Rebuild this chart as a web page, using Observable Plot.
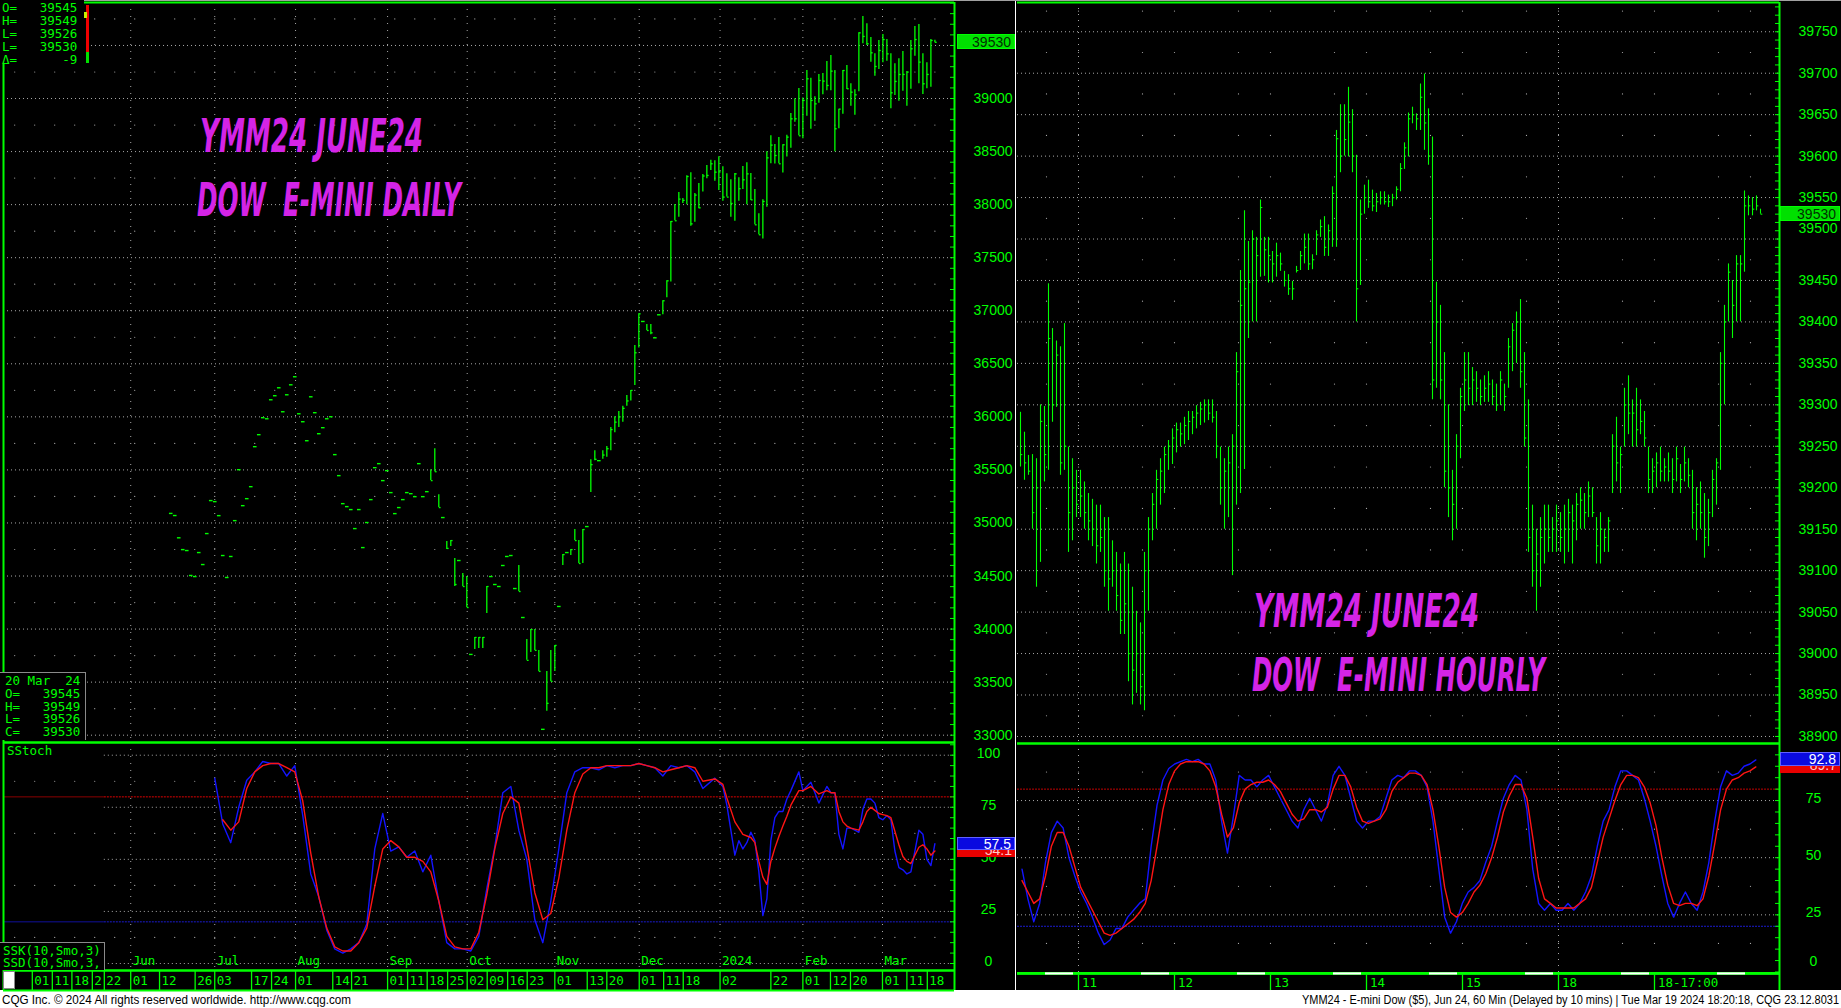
<!DOCTYPE html>
<html>
<head>
<meta charset="utf-8">
<script src="https://cdn.jsdelivr.net/npm/d3@7"></script>
<script src="https://cdn.jsdelivr.net/npm/@observablehq/plot@0.6"></script>
<style>
  html, body { margin:0; padding:0; background:#fff; }
  #root { position:relative; width:1841px; height:1008px; overflow:hidden; background:#fff; }
  .abs { position:absolute; }
  .abs svg { display:block; max-width:none; }
  .mono { font-family:"DejaVu Sans Mono", monospace; font-size:12.5px; line-height:12.8px; color:#00ff00; white-space:pre; box-sizing:border-box; }
  .vbox { position:absolute; font-family:"Liberation Sans", Arial, sans-serif; font-size:14px; line-height:14px; text-align:right; box-sizing:border-box; padding-right:3px; overflow:hidden; }
</style>
</head>
<body>
<div id="root"></div>
<script>
// ================= DAILY (left) =================
const dHigh = [
35090,35070,34860,34749,34740,34505,34495,34721,34608,34900,
35211,35201,35069,34693,34486,34684,35022,35502,35163,35229,
35342,35719,35832,35992,35982,36161,36199,36274,36048,36208,
36302,36378,36029,35954,35775,36189,36039,35841,35898,35982,
36001,35644,35446,35182,35154,35126,34947,35126,34768,35004,
35220,35521,35559,35399,35493,35286,35088,35145,35220,35286,
35276,35248,35559,35248,35295,
35502,35700,35267,35051,34825,34834,34665,34646,34523,34495,
33761,33921,33921,33921,34401,34495,34420,34401,34599,34684,
34693,34382,34599,34109,33902,33996,33996,33799,33055,33601,
33799,33846,34213,34702,34721,34749,34938,34834,34938,34966,
35596,35681,35587,35680,35720,35900,36000,36050,36100,36201,
36249,36673,36971,36899,36871,36871,36745,36962,37094,37282,
37841,38001,38115,38058,38272,38300,38105,38199,38284,38369,
38419,38413,38451,38356,38290,38234,38294,38253,38360,38394,
38294,38143,37913,38045,38498,38649,38567,38633,38564,38655,
38859,38997,39095,39004,39264,39192,39016,39227,39236,39349,
39406,39264,38900,39264,39311,39139,39082,39619,39773,39704,
39575,39421,39547,39604,39556,39421,39327,39374,39443,39255,
39547,39679,39698,39421,39337,39556,39549];
const dLow = [
35090,35070,34860,34749,34740,34505,34495,34721,34608,34900,
35211,35201,35069,34693,34486,34684,35022,35502,35163,35229,
35342,35719,35832,35992,35982,36161,36199,36274,36048,36208,
36302,36378,36029,35954,35775,36189,36039,35841,35898,35982,
36001,35644,35446,35182,35154,35126,34947,35126,34768,35004,
35220,35521,35559,35399,35493,35286,35088,35145,35220,35286,
35276,35248,35559,35248,35295,
35399,35483,35145,35051,34749,34778,34401,34646,34401,34203,
33761,33808,33818,33818,34147,34495,34420,34401,34599,34684,
34693,34382,34354,34109,33705,33780,33799,33601,33055,33225,
33507,33601,34213,34599,34721,34693,34834,34618,34618,34966,
35286,35587,35587,35600,35620,35680,35850,35900,35950,36100,
36150,36296,36648,36899,36814,36773,36745,36962,36962,37122,
37270,37848,37882,38011,37998,37797,37835,37961,38118,38243,
38322,38221,38133,38033,38071,37882,37844,38033,38143,37998,
38039,37810,37716,37675,37976,38385,38382,38385,38297,38448,
38532,38777,38649,38620,38834,38711,38787,38956,39035,39073,
39073,38498,38715,38853,39085,38928,38843,39063,39516,39500,
39343,39211,39274,39337,39352,38903,39029,38975,39069,38928,
39088,39399,39139,39038,39092,39107,39526];
const dClose = [
35090,35070,34860,34749,34740,34505,34495,34721,34608,34900,
35211,35201,35069,34693,34486,34684,35022,35502,35163,35229,
35342,35719,35832,35992,35982,36161,36199,36274,36048,36208,
36302,36378,36029,35954,35775,36189,36039,35841,35898,35982,
36001,35644,35446,35182,35154,35126,34947,35126,34768,35004,
35220,35521,35559,35399,35493,35286,35088,35145,35220,35286,
35276,35248,35559,35248,35295,
35399,35483,35145,35051,34760,34834,34420,34646,34401,34203,
33761,33921,33921,33921,34401,34495,34420,34401,34599,34684,
34693,34382,34354,34109,33705,33996,33799,33601,33055,33300,
33507,33846,34213,34702,34721,34749,34834,34618,34938,34966,
35550,35600,35587,35640,35700,35880,35950,36000,36080,36150,
36249,36604,36971,36899,36814,36792,36745,36962,37094,37282,
37841,37848,38052,38040,38265,37819,38090,37970,38270,38275,
38385,38306,38309,38071,38071,38011,38290,38150,38234,38290,
38045,37810,37716,38030,38441,38561,38463,38385,38564,38636,
38809,38809,38649,38982,39186,38982,38950,39170,39164,39123,
39258,38715,38900,39264,39092,39060,39035,39619,39585,39516,
39431,39302,39453,39556,39421,39054,39161,39227,39227,39249,
39469,39556,39343,39139,39227,39547,39530];

// session index of each date label on the daily axis
const dTickIdx = [-34.6,-29.6,-24.7,-19.6,-16.6,-10.0,-2.8,6.1,11.0,20.2,25.2,31.2,40.5,45.2,54.2,59.2,64.1,69.2,74.1,79.1,84.2,89.1,96.0,104.1,109.0,117.1,123.2,128.1,137.3,150.0,158.0,164.9,169.9,177.9,184.0,189.1];
const dTickLab = ["01","11","18","2","22","01","12","26","03","17","24","01","14","21","01","11","18","25","02","09","16","23","01","13","20","01","11","18","02","22","01","12","20","01","11","18"];
const dMonthIdx = [-10.0,11.0,31.2,54.2,74.1,96.0,117.1,137.3,158.0,177.9];
const dMonthLab = ["Jun","Jul","Aug","Sep","Oct","Nov","Dec","2024","Feb","Mar"];
const dPriceLabels = [33000,33500,34000,34500,35000,35500,36000,36500,37000,37500,38000,38500,39000];
const dStochLabels = [100,75,50,25,0];
const dPreDataEnd = -16.6;   // session index where the loaded history begins

const dK = [[11,89],[13,67],[15,58],[17,75],[19,88],[21,92],[23,97],[25,96],[27,96],[29,90],[31,95],[33,71],[35,43],[37,32],[39,16],[41,7],[43,5],[45,7],[47,10],[49,19],[51,55],[53,72],[55,54],[57,56],[59,51],[61,54],[63,44],[65,52],[67,30],[69,10],[71,7],[73,7],[75,6],[77,13],[79,36],[81,56],[83,82],[85,85],[87,64],[89,50],[91,21],[93,10],[95,30],[97,55],[99,82],[101,92],[103,94],[105,94],[107,93],[109,95],[111,94],[113,95],[115,95],[117,96],[119,95],[121,94],[123,90],[125,95],[127,94],[129,95],[131,92],[133,84],[136,89],[138,85],[139,76],[141,52],[142,59],[143,55],[144,58],[145,63],[146,59],[147,44],[148,23],[149,31],[150,59],[151,70],[152,73],[153,73],[154,79],[155,83],[157,92],[158,83],[160,87],[162,77],[164,85],[165,82],[166,82],[167,62],[168,55],[169,65],[170,65],[171,64],[172,63],[173,74],[174,79],[175,79],[176,77],[177,70],[178,69],[179,71],[180,69],[181,54],[182,46],[183,45],[184,43],[185,44],[186,54],[187,64],[188,62],[189,50],[190,47],[191,57.5]];
const dD = [[13,69],[15,64],[17,68],[19,84],[21,92],[23,95],[25,96],[27,96],[29,94],[31,92],[33,78],[35,53],[37,32],[39,17],[41,8],[43,6],[45,6],[47,10],[49,17],[51,37],[53,55],[55,59],[57,56],[59,51],[61,51],[63,49],[65,44],[67,30],[69,13],[71,8],[73,7],[75,7],[77,15],[79,33],[81,55],[83,72],[85,80],[87,77],[89,56],[91,34],[93,21],[95,24],[97,41],[99,64],[101,82],[103,91],[105,94],[107,94],[109,95],[111,95],[113,95],[115,95],[117,96],[119,95],[121,94],[123,92],[125,93],[127,94],[129,95],[131,94],[133,87.5],[136,88.6],[138,86],[139,79.5],[141,68],[143,62],[145,60.5],[146,58],[147,49],[148,41.5],[149,38],[150,49],[151,55.4],[152,61],[153,66],[154,70.7],[155,76],[157,83],[158,83],[160,85],[162,81.4],[164,83],[165,82],[166,82],[167,73],[168,68],[169,66],[170,65],[172,64],[173,68],[174,73],[175,75],[176,73.5],[177,72],[178,71.5],[179,71],[180,70],[181,63.5],[182,57],[183,51.4],[184,49],[185,48],[186,52],[187,55.8],[188,57],[189,55],[190,52],[191,54]];

const dInfoTop = ["O=","H=","L=","L=","\u0394="];
const dInfoTopVal = ["39545","39549","39526","39530","-9"];
const dInfoBottom = ["O=","H=","L=","C="];
const dInfoBottomVal = ["39545","39549","39526","39530"];
const dInfoDate = "20 Mar  24";
const dLastPrice = 39530, dLastK = 57.5, dLastD = 54.1;

// ================= HOURLY (right) =================
const hHigh = [
39291,39267,39239,39240,39235,39300,39298,39446,39392,39377,
39370,39398,39249,39235,39221,39221,39207,39193,39186,39179,
39179,39164,39164,39136,39122,39108,39122,39108,39080,39051,
39037,39122,39164,39193,39221,39235,39249,39257,39271,39278,
39278,39285,39292,39292,39299,39303,39306,39306,39306,39292,
39249,39235,39249,39264,39363,39462,39534,39497,39510,39502,
39547,39502,39502,39485,39495,39483,39461,39457,39449,39467,
39485,39506,39506,39481,39510,39523,39527,39517,39563,39631,
39662,39662,39683,39656,39601,39547,39565,39571,39559,39555,
39557,39557,39553,39554,39563,39591,39616,39652,39659,39651,
39687,39699,39657,39623,39448,39420,39363,39300,39221,39264,
39320,39363,39363,39345,39340,39330,39335,39340,39330,39325,
39340,39325,39380,39398,39412,39427,39363,39306,39179,39150,
39164,39179,39179,39164,39179,39170,39179,39186,39179,39193,
39200,39193,39207,39200,39164,39170,39150,39164,39264,39285,
39249,39320,39335,39306,39320,39306,39292,39249,39235,39242,
39249,39235,39242,39235,39249,39228,39249,39235,39221,39200,
39207,39193,39186,39221,39235,39363,39420,39470,39450,39480,
39480,39558,39552,39550,39552,39536];
const hLow = [
39225,39209,39215,39150,39080,39110,39207,39221,39279,39297,
39215,39221,39122,39136,39164,39164,39150,39136,39129,39108,
39122,39080,39051,39080,39051,39023,39023,38966,38938,38952,
38938,38931,39051,39136,39150,39179,39193,39221,39228,39242,
39249,39252,39257,39264,39271,39275,39278,39281,39278,39235,
39179,39150,39164,39094,39179,39193,39222,39380,39400,39400,
39454,39455,39447,39447,39454,39461,39442,39432,39426,39459,
39462,39470,39462,39463,39480,39502,39479,39479,39490,39490,
39580,39600,39599,39580,39400,39444,39530,39537,39533,39532,
39541,39541,39538,39539,39547,39557,39584,39599,39639,39631,
39631,39607,39589,39306,39320,39306,39200,39164,39136,39150,
39235,39292,39299,39299,39303,39299,39303,39303,39299,39292,
39299,39292,39320,39340,39350,39320,39249,39122,39080,39051,
39080,39108,39122,39122,39122,39122,39108,39122,39108,39136,
39150,39150,39164,39164,39108,39108,39122,39122,39193,39207,
39193,39249,39264,39249,39249,39264,39249,39193,39193,39200,
39207,39207,39207,39193,39207,39193,39207,39200,39150,39136,
39150,39115,39129,39164,39179,39221,39300,39400,39380,39400,
39400,39460,39528,39528,39534,39530];
const hClose = [
39240,39230,39220,39170,39200,39280,39240,39380,39300,39360,
39230,39250,39170,39200,39180,39190,39170,39160,39150,39130,
39140,39100,39090,39100,39070,39040,39060,39000,38980,39000,
38960,39100,39150,39180,39210,39220,39240,39250,39260,39270,
39265,39275,39280,39285,39290,39295,39300,39290,39285,39250,
39200,39220,39230,39250,39340,39420,39440,39448,39500,39480,
39538,39487,39480,39470,39480,39470,39450,39440,39440,39462,
39480,39490,39470,39475,39505,39515,39490,39510,39555,39621,
39600,39620,39641,39600,39440,39530,39550,39545,39540,39545,
39550,39545,39545,39550,39560,39585,39610,39645,39650,39645,
39671,39640,39600,39330,39400,39330,39220,39200,39180,39250,
39310,39330,39320,39330,39320,39310,39320,39325,39310,39300,
39330,39310,39370,39390,39400,39340,39260,39140,39100,39120,
39140,39150,39140,39150,39160,39140,39150,39170,39160,39180,
39185,39170,39190,39170,39130,39150,39140,39160,39250,39230,
39240,39300,39290,39290,39270,39280,39260,39210,39220,39230,
39220,39225,39220,39210,39235,39210,39230,39215,39170,39180,
39170,39140,39170,39210,39230,39350,39400,39460,39420,39470,
39470,39540,39540,39536,39540,39530];

const hDayIdx = [14.5,38.5,62.5,86.5,110.5,134.5,158.5];
const hDayLab = ["11","12","13","14","15","18","18-17:00"];
const hWeekIdx = [14.5,134.5];
const hRth = [[6.25,13.25],[30.25,37.25],[54.25,61.25],[78.25,85.25],[102.25,109.25],[126.25,133.25],[150.25,157.25],[174.25,181.25]];
const hPriceLabels = [38900,38950,39000,39050,39100,39150,39200,39250,39300,39350,39400,39450,39500,39550,39600,39650,39700,39750];
const hStochLabels = [75,50,25,0];
// stochastic readings, one every 1.47 bars starting at bar 0.4
const hStochStart = 0.38, hStochStep = 1.4676;
const hK = [45,32,22,30,48,61,66,63,50,42,35,30,24,17,12,14,19,19,24,27,30,32,55,73,84,89,91,92,93,92,93,91,91,84,66,52,68,86,84,84,81,84,86,81,76,71,66,63,71,76,71,66,73,86,90,86,76,66,63,66,66,68,76,84,86,85,88,88,86,81,66,45,24,17,22,30,35,37,40,48,55,66,76,82,86,84,71,45,30,27,30,27,27,30,27,30,35,42,55,66,71,81,88,88,86,84,76,66,55,42,30,24,30,35,30,27,35,48,66,81,88,86,87,90,91,92.8];
const hD = [40,35,30,32,42,55,61,61,55,46,37,32,27,22,17,16,17,19,21,23,26,30,40,55,71,82,88,91,92,92,92,91,88,81,69,59,63,74,80,82,83,83,84,82,79,74,69,66,67,71,71,70,72,80,86,86,81,72,66,65,66,67,71,79,83,85,87,87,86,82,71,55,37,26,24,26,30,35,38,43,50,59,70,77,82,82,76,59,41,32,30,28,28,28,28,30,32,37,48,59,67,75,82,86,86,85,81,74,64,50,38,30,29,30,30,29,32,42,56,71,80,84,85,87,88,89.7];
const hLastPrice = 39530, hLastK = 92.8, hLastD = 89.7;

const titlesLeft = ["YMM24 JUNE24","DOW  E-MINI DAILY"];
const titlesRight = ["YMM24 JUNE24","DOW  E-MINI HOURLY"];
const footLeft = "CQG Inc. \u00a9 2024 All rights reserved worldwide. http://www.cqg.com";
const footRight = "YMM24 - E-mini Dow ($5), Jun 24, 60 Min (Delayed by 10 mins) | Tue Mar 19 2024 18:20:18, CQG 23.12.8031";

// ================= rendering =================
const GREEN = "#00ff00", GRID = "#a8a8a8", BLUE = "#1414ff", RED = "#ff1414", MAGENTA = "#d424e6";
const SANS = "Liberation Sans, Arial, sans-serif", MONO = "DejaVu Sans Mono, monospace";
const root = document.getElementById("root");

function box(left, top, width, height, css) {
  const d = document.createElement("div");
  d.className = "abs";
  Object.assign(d.style, {left: left + "px", top: top + "px", width: width + "px", height: height + "px"}, css || {});
  root.appendChild(d);
  return d;
}
function mount(plot, left, top, width, height) {
  const d = box(left, top, width, height);
  d.appendChild(plot);
  return plot;
}

box(0, 0, 1841, 990, {background: "#000"});

function barMarks(rows, sw) {
  const bars = rows.filter(d => d.h > d.l), dashes = rows.filter(d => d.h === d.l);
  return [
    Plot.ruleX(bars, {x: "i", y1: "l", y2: "h", stroke: GREEN, strokeWidth: sw}),
    Plot.link(bars, {x1: "i", x2: d => d.i + 0.45, y1: "c", y2: "c", stroke: GREEN, strokeWidth: sw}),
    Plot.link(dashes, {x1: d => d.i - 0.45, x2: d => d.i + 0.45, y1: "c", y2: "c", stroke: GREEN, strokeWidth: 1.4})
  ];
}
function frame(X, Y, sides) {
  const m = [];
  if (sides.includes("l")) m.push(Plot.ruleX([X[0]], {stroke: GREEN, strokeWidth: 2}));
  if (sides.includes("r")) m.push(Plot.ruleX([X[1]], {stroke: GREEN, strokeWidth: 2}));
  if (sides.includes("t")) m.push(Plot.ruleY([Y[1]], {stroke: GREEN, strokeWidth: 2}));
  if (sides.includes("b")) m.push(Plot.ruleY([Y[0]], {stroke: GREEN, strokeWidth: 2}));
  return m;
}
const baseStyle = {background: "transparent", overflow: "visible"};

// ---------- left price ----------
const LX = [-41.8, 195.9], LY = [32931, 39905];
const dRows = dHigh.map((h, i) => ({i, h, l: dLow[i], c: dClose[i]}));
const weekly = d3.range(-39, 196, 5);
const leftPrice = mount(Plot.plot({
  width: 1015, height: 742, marginLeft: 3, marginRight: 61, marginTop: 2, marginBottom: 0,
  x: {domain: LX, axis: null}, y: {domain: LY, axis: null}, style: baseStyle,
  marks: [
    Plot.ruleY(d3.range(33000, 39501, 500), {stroke: GRID, strokeDasharray: "1,3"}),
    Plot.ruleX(dMonthIdx, {stroke: GRID, strokeDasharray: "1,6"}),
    Plot.dot(d3.cross(weekly, d3.range(33250, 39900, 500)), {x: d => d[0], y: d => d[1], r: 0.6, fill: GRID}),
    ...barMarks(dRows, 1.3),
    Plot.ruleY(d3.range(33000, 39901, 100), {x1: LX[1] - 1, x2: LX[1], stroke: GREEN}),
    Plot.text(dPriceLabels, {y: d => d, text: d => String(d), frameAnchor: "right", dx: 58, textAnchor: "end", fill: GREEN, fontSize: 14, fontFamily: SANS}),
    ...frame(LX, LY, "lrtb")
  ]
}), 0, 0, 1015, 742);

// ---------- left stochastic ----------
const LSY = [-3.36, 106.1];
const leftStoch = mount(Plot.plot({
  width: 1015, height: 228, marginLeft: 3, marginRight: 61, marginTop: 0, marginBottom: 0,
  x: {domain: LX, axis: null}, y: {domain: LSY, axis: null}, style: baseStyle,
  marks: [
    Plot.ruleY([0, 25, 50, 75, 100], {x1: dPreDataEnd, x2: LX[1], stroke: GRID, strokeDasharray: "1,3"}),
    Plot.ruleX(dMonthIdx, {stroke: GRID, strokeDasharray: "1,6"}),
    Plot.dot(d3.cross(weekly, [12.5, 37.5, 62.5, 87.5]), {x: d => d[0], y: d => d[1], r: 0.6, fill: GRID}),
    Plot.ruleY([80], {x1: dPreDataEnd, x2: LX[1], stroke: "#e00000", strokeDasharray: "2,1"}),
    Plot.ruleY([20], {x1: dPreDataEnd, x2: LX[1], stroke: "#1a1ad0", strokeDasharray: "2,1"}),
    Plot.ruleY([80], {x1: LX[0], x2: dPreDataEnd, stroke: "#8a0000"}),
    Plot.ruleY([20], {x1: LX[0], x2: dPreDataEnd, stroke: "#10109a"}),
    Plot.line(dK, {x: d => d[0], y: d => d[1], stroke: BLUE, strokeWidth: 1.4}),
    Plot.line(dD, {x: d => d[0], y: d => d[1], stroke: RED, strokeWidth: 1.4}),
    Plot.ruleY(d3.range(0, 106, 5), {x1: LX[1] - 1, x2: LX[1], stroke: GREEN}),
    Plot.text(dStochLabels, {y: d => d, text: d => String(d), frameAnchor: "right", dx: 34, dy: -2, textAnchor: "middle", fill: GREEN, fontSize: 14, fontFamily: SANS}),
    Plot.text(dMonthIdx, {x: d => d, text: (d, k) => dMonthLab[k], frameAnchor: "bottom", dy: -6, dx: 2, textAnchor: "start", fill: GREEN, fontSize: 12.5, fontFamily: MONO}),
    ...frame(LX, LSY, "lrtb")
  ]
}), 0, 742, 1015, 228);

// ---------- left date row ----------
mount(Plot.plot({
  width: 1015, height: 20, marginLeft: 3, marginRight: 61, marginTop: 0, marginBottom: 0,
  x: {domain: LX, axis: null}, y: {domain: [0, 1], axis: null}, style: baseStyle,
  marks: [
    Plot.ruleX(dTickIdx, {stroke: GREEN, strokeWidth: 1.3}),
    Plot.text(dTickIdx, {x: d => d, y: 0.5, text: (d, k) => dTickLab[k], dx: 2, textAnchor: "start", fill: GREEN, fontSize: 12.5, fontFamily: MONO}),
    ...frame(LX, [0, 1], "lrtb")
  ]
}), 0, 970, 1015, 20);

// ---------- right price ----------
const RX = [-0.75, 189.75], RY = [38891.5, 39785.3];
const hRows = hHigh.map((h, i) => ({i, h, l: hLow[i], c: hClose[i]}));
const hLattice = d3.range(6.5, 190, 24).concat(d3.range(14.5, 190, 24));
const rightPrice = mount(Plot.plot({
  width: 825, height: 743, marginLeft: 1, marginRight: 62, marginTop: 2, marginBottom: 0,
  x: {domain: RX, axis: null}, y: {domain: RY, axis: null}, style: baseStyle,
  marks: [
    Plot.ruleY(d3.range(38900, 39751, 50), {stroke: GRID, strokeDasharray: "1,3"}),
    Plot.ruleX(hWeekIdx, {stroke: GRID, strokeDasharray: "1,5"}),
    Plot.dot(d3.cross(hLattice, d3.range(38925, 39780, 50)), {x: d => d[0], y: d => d[1], r: 0.6, fill: GRID}),
    ...barMarks(hRows, 1.1),
    Plot.ruleY(d3.range(38900, 39781, 10), {x1: RX[1] - 1, x2: RX[1], stroke: GREEN}),
    Plot.text(hPriceLabels, {y: d => d, text: d => String(d), frameAnchor: "right", dx: 58, textAnchor: "end", fill: GREEN, fontSize: 14, fontFamily: SANS, filter: d => d !== 39500}),
    Plot.text([39500], {y: d => d, text: d => String(d), frameAnchor: "right", dx: 58, dy: -11, textAnchor: "end", fill: GREEN, fontSize: 14, fontFamily: SANS}),
    ...frame(RX, RY, "rtb")
  ]
}), 1016, 0, 825, 743);

// ---------- right stochastic ----------
const RSY = [-0.22, 99.96];
const hKpts = hK.map((v, m) => [hStochStart + hStochStep * m, v]);
const hDpts = hD.map((v, m) => [hStochStart + hStochStep * m, v]);
const rightStoch = mount(Plot.plot({
  width: 825, height: 229, marginLeft: 1, marginRight: 62, marginTop: 0, marginBottom: 0,
  x: {domain: RX, axis: null}, y: {domain: RSY, axis: null}, style: baseStyle,
  marks: [
    Plot.ruleY([25, 50, 75], {stroke: GRID, strokeDasharray: "1,3"}),
    Plot.ruleX(hWeekIdx, {stroke: GRID, strokeDasharray: "1,5"}),
    Plot.dot(d3.cross(hLattice, [12.5, 37.5, 62.5, 87.5]), {x: d => d[0], y: d => d[1], r: 0.6, fill: GRID}),
    Plot.ruleY([80], {stroke: "#c00000", strokeDasharray: "2,1"}),
    Plot.ruleY([20], {stroke: "#1a1ad0", strokeDasharray: "2,1"}),
    Plot.line(hKpts, {x: d => d[0], y: d => d[1], stroke: BLUE, strokeWidth: 1.4}),
    Plot.line(hDpts, {x: d => d[0], y: d => d[1], stroke: RED, strokeWidth: 1.4}),
    Plot.ruleY(d3.range(0, 100, 5), {x1: RX[1] - 1, x2: RX[1], stroke: GREEN}),
    Plot.text(hStochLabels.filter(v => v > 0), {y: d => d, text: d => String(d), frameAnchor: "right", dx: 34, dy: -2, textAnchor: "middle", fill: GREEN, fontSize: 14, fontFamily: SANS}),
    Plot.text([0], {y: d => d, text: d => String(d), frameAnchor: "right", dx: 34, dy: -10, textAnchor: "middle", fill: GREEN, fontSize: 14, fontFamily: SANS}),
    ...frame(RX, RSY, "rt")
  ]
}), 1016, 743, 825, 229);

// ---------- right date row ----------
mount(Plot.plot({
  width: 825, height: 18, marginLeft: 1, marginRight: 62, marginTop: 0, marginBottom: 0,
  x: {domain: RX, axis: null}, y: {domain: [0, 1], axis: null}, style: baseStyle,
  marks: [
    Plot.rect([0], {x1: RX[0], x2: RX[1], y1: 0.84, y2: 1, fill: GREEN}),
    Plot.rect(hRth, {x1: d => d[0], x2: d => d[1], y1: 0.86, y2: 0.98, fill: "#ffffff"}),
    Plot.ruleX(hDayIdx, {y1: 0, y2: 0.86, stroke: GREEN, strokeWidth: 1.3}),
    Plot.ruleX([RX[1]], {stroke: GREEN, strokeWidth: 2}),
    Plot.text(hDayIdx, {x: d => d, y: 0.42, text: (d, k) => hDayLab[k], dx: 3.5, textAnchor: "start", fill: GREEN, fontSize: 12.5, fontFamily: MONO})
  ]
}), 1016, 972, 825, 18);

// white divider between the two charts
box(1015, 0, 1, 990, {background: "#ffffff"});
// thin gray line at the very top
box(0, 0, 1841, 1, {background: "#a0a0a0"});

// ---------- value boxes (positioned with the plots' own scales) ----------
function vbox(plot, svgLeft, svgTop, value, text, left, width, height, bg, fg, border) {
  const y = svgTop + plot.scale("y").apply(value);
  const d = document.createElement("div");
  d.className = "vbox";
  Object.assign(d.style, {left: left + "px", top: (y - height / 2) + "px", width: width + "px", height: height + "px",
    background: bg, color: fg, border: border || "none", lineHeight: (height - 1) + "px"});
  d.textContent = text;
  root.appendChild(d);
}
vbox(leftPrice, 0, 0, dLastPrice, String(dLastPrice), 957, 58, 15, "#00e000", "#003000", "1px solid #00ff00");
vbox(leftStoch, 0, 742, dLastD, dLastD.toFixed(1), 957, 58, 13, "#e80000", "#ffc8c8");
vbox(leftStoch, 0, 742, dLastK, dLastK.toFixed(1), 957, 58, 13, "#0a0ae0", "#ffffff", "1px solid #6060ff");
vbox(rightPrice, 1016, 0, hLastPrice, String(hLastPrice), 1780, 60, 15, "#00e000", "#003000", "1px solid #00ff00");
vbox(rightStoch, 1016, 743, hLastD, hLastD.toFixed(1), 1780, 60, 14, "#e80000", "#ffc8c8");
vbox(rightStoch, 1016, 743, hLastK, hLastK.toFixed(1), 1780, 60, 14, "#0a0ae0", "#ffffff", "1px solid #6060ff");

// ---------- info boxes ----------
function pad(lab, val, n) { return lab + " ".repeat(Math.max(1, n - lab.length - val.length)) + val; }
const top1 = box(0, 0, 84, 64, {background: "#000", paddingLeft: "2px", paddingTop: "0.5px", lineHeight: "13px"});
top1.classList.add("mono");
top1.textContent = dInfoTop.map((l, k) => pad(l, dInfoTopVal[k], 10)).join("\n");
box(86, 5, 3, 47, {background: "#f00000"});
box(86, 52, 3, 11, {background: "#00e000"});
box(84, 12, 3, 6, {background: "#c8f000"});

const bot1 = box(0, 672, 86, 68, {background: "#000", borderTop: "1px solid #8a8a8a", borderRight: "1px solid #8a8a8a", paddingLeft: "5px", paddingTop: "2px"});
bot1.classList.add("mono");
bot1.textContent = [dInfoDate].concat(dInfoBottom.map((l, k) => pad(l, dInfoBottomVal[k], 10))).join("\n");

const ss = box(7, 745, 60, 13, {});
ss.classList.add("mono");
ss.textContent = "SStoch";

const ssk = box(0, 942, 105, 28, {background: "#000", borderTop: "1px solid #8a8a8a", borderRight: "1px solid #8a8a8a", paddingLeft: "3px", paddingTop: "1.5px"});
ssk.classList.add("mono");
ssk.textContent = "SSK(10,Smo,3)\nSSD(10,Smo,3,";

box(3, 971, 12, 18, {background: "#ffffff", border: "1px solid #8a8a8a", boxSizing: "border-box"});

// ---------- titles & footer text ----------
const ov = d3.create("svg").attr("width", 1841).attr("height", 1008)
  .style("position", "absolute").style("left", "0px").style("top", "0px").style("pointer-events", "none");
const titleSpecs = [
  {t: titlesLeft[0], x: 200, y: 152, len: 223},
  {t: titlesLeft[1], x: 197, y: 216, len: 264},
  {t: titlesRight[0], x: 1254, y: 627, len: 225},
  {t: titlesRight[1], x: 1252, y: 691, len: 293}
];
ov.selectAll("text.title").data(titleSpecs).join("text").attr("class", "title")
  .attr("x", d => d.x).attr("y", d => d.y).attr("textLength", d => d.len).attr("lengthAdjust", "spacingAndGlyphs")
  .attr("fill", MAGENTA).attr("font-family", "DejaVu Sans, sans-serif").attr("font-weight", "bold").attr("font-style", "italic")
  .attr("font-size", 46).style("white-space", "pre").text(d => d.t);
ov.append("text").attr("x", 2).attr("y", 1003.5).attr("textLength", 349).attr("lengthAdjust", "spacingAndGlyphs")
  .attr("font-family", SANS).attr("font-size", 12.5).attr("fill", "#000").text(footLeft);
ov.append("text").attr("x", 1302).attr("y", 1003.5).attr("textLength", 537).attr("lengthAdjust", "spacingAndGlyphs")
  .attr("font-family", SANS).attr("font-size", 12.5).attr("fill", "#000").text(footRight);
root.appendChild(ov.node());
</script>
</body>
</html>
